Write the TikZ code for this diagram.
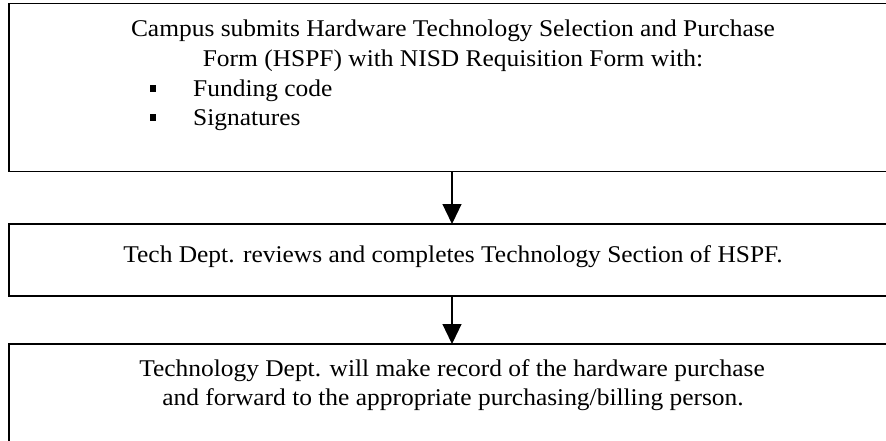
\documentclass[tikz,border=0pt]{standalone}
\usepackage{fontspec}
\setmainfont[FakeStretch=1.06]{Liberation Serif}
\usetikzlibrary{arrows.meta}
\begin{document}
\begin{tikzpicture}[x=1pt,y=-1pt,
  stepbox/.style={draw=black,line width=1.2pt,anchor=north west,inner sep=0pt,outer sep=0pt,minimum width=1000pt},
  txt/.style={anchor=base,inner sep=0pt,font=\fontsize{24}{29.7}\selectfont},
  txtl/.style={txt,anchor=base west},
  bul/.style={fill=black,draw=none,minimum size=6.5pt,inner sep=0pt},
  arr/.style={line width=1.2pt,-{Triangle[length=20pt,width=19pt]}}
]
\useasboundingbox (0,0) rectangle (886,440);
% boxes
\node[stepbox,minimum height=168pt] (box1) at (9,3.5) {};
\node[stepbox,minimum height=72pt] (box2) at (9,224) {};
\node[stepbox,minimum height=200pt] (box3) at (9,344) {};
% box 1 text
\node[txt] (t1a) at (453,36) {Campus submits Hardware Technology Selection and Purchase};
\node[txt] (t1b) at (453,66) {Form (HSPF) with NISD Requisition Form with:};
\node[bul] (b1) at (153,88.5) {};
\node[txtl] (t1c) at (193,96) {Funding code};
\node[bul] (b2) at (153,117.5) {};
\node[txtl] (t1d) at (193,125) {Signatures};
% box 2 text
\node[txt] (t2) at (453,262) {Tech Dept. reviews and completes Technology Section of HSPF.};
% box 3 text
\node[txt] (t3a) at (452,376) {Technology Dept. will make record of the hardware purchase};
\node[txt] (t3b) at (453,405) {and forward to the appropriate purchasing/billing person.};
% arrows
\coordinate (ax) at (452,0);
\draw[arr] (box1.south -| ax) -- (box2.north -| ax);
\draw[arr] (box2.south -| ax) -- (box3.north -| ax);
\end{tikzpicture}
\end{document}
